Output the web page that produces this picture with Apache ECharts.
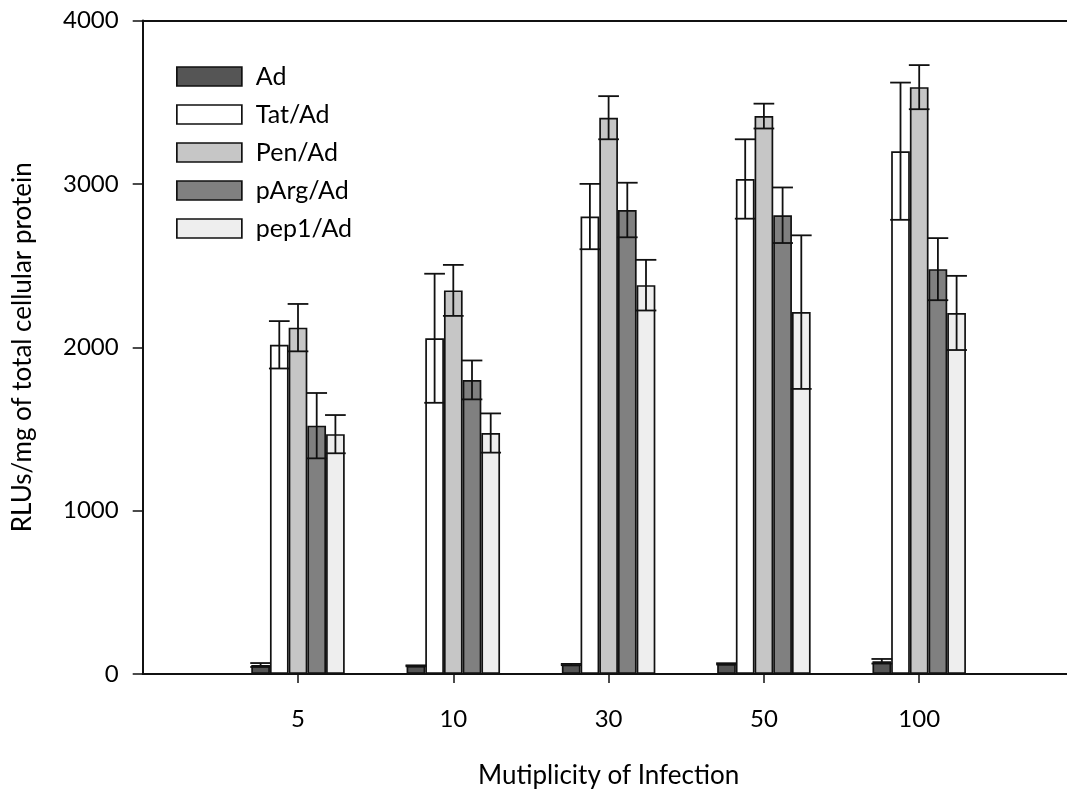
<!DOCTYPE html>
<html>
<head>
<meta charset="utf-8">
<script src="https://cdn.jsdelivr.net/npm/echarts@6/dist/echarts.min.js"></script>
<style>
  html, body { margin: 0; padding: 0; background: #fff; }
  #chart { width: 1067px; height: 791px; }
</style>
</head>
<body>
<div id="chart"></div>
<script>
// Multiplicity of infection groups
const categories = ['5', '10', '30', '50', '100'];
const seriesNames = ['Ad', 'Tat/Ad', 'Pen/Ad', 'pArg/Ad', 'pep1/Ad'];

// Mean RLUs/mg per vector at each MOI
const adMean   = [55, 50, 58, 62, 78];
const tatMean  = [2015, 2055, 2800, 3030, 3200];
const penMean  = [2120, 2348, 3405, 3415, 3592];
const pargMean = [1520, 1800, 2840, 2808, 2478];
const pep1Mean = [1468, 1475, 2380, 2215, 2210];

// Error (±) for each mean
const adErr   = [12, 3, 4, 4, 14];
const tatErr  = [145, 395, 200, 243, 420];
const penErr  = [145, 156, 132, 76, 135];
const pargErr = [200, 119, 167, 170, 190];
const pep1Err = [117, 120, 155, 470, 227];

const yTicks = [0, 1000, 2000, 3000, 4000];

const means = [adMean, tatMean, penMean, pargMean, pep1Mean];
const errs = [adErr, tatErr, penErr, pargErr, pep1Err];
const fills = ['#555555', '#ffffff', '#c6c6c6', '#808080', '#eeeeee'];

const FONT = 'Lato';
const INK = '#000';
const BAR_W = 18.7;

const chart = echarts.init(document.getElementById('chart'), null, { renderer: 'canvas' });

const barSeries = seriesNames.map((name, i) => ({
  name: name,
  type: 'bar',
  barWidth: BAR_W,
  barGap: '0%',
  data: means[i].map((v, k) => [k + 1, v]),
  itemStyle: { color: fills[i], borderColor: '#111', borderWidth: 1.7 },
  emphasis: { disabled: true },
  z: 2
}));

// Symmetric error bars with caps as wide as a bar
const errSeries = seriesNames.map((name, i) => ({
  type: 'custom',
  name: name + ' err',
  silent: true,
  z: 5,
  data: means[i].map((v, k) => [k + 1, v, errs[i][k]]),
  renderItem: function (params, api) {
    const x = api.value(0), v = api.value(1), e = api.value(2);
    const off = (i - (seriesNames.length - 1) / 2) * BAR_W;
    const top = api.coord([x, v + e]);
    const bot = api.coord([x, v - e]);
    const cx = top[0] + off;
    const hw = BAR_W / 2 + 1;
    const st = { stroke: '#111', lineWidth: 1.8 };
    return {
      type: 'group',
      children: [
        { type: 'line', shape: { x1: cx, y1: top[1], x2: cx, y2: bot[1] }, style: st },
        { type: 'line', shape: { x1: cx - hw, y1: top[1], x2: cx + hw, y2: top[1] }, style: st },
        { type: 'line', shape: { x1: cx - hw, y1: bot[1], x2: cx + hw, y2: bot[1] }, style: st }
      ]
    };
  }
}));

chart.setOption({
  animation: false,
  backgroundColor: '#ffffff',
  textStyle: { fontFamily: FONT },
  grid: {
    left: 142.7, top: 20.5, bottom: 117, right: -7.5,
    show: false, containLabel: false, outerBoundsMode: 'none'
  },
  legend: {
    orient: 'vertical',
    left: 176, top: 64, padding: 0,
    icon: 'rect',
    itemWidth: 65, itemHeight: 19, itemGap: 13,
    data: seriesNames,
    selectedMode: false,
    itemStyle: { borderColor: '#111', borderWidth: 1.7 },
    textStyle: { fontFamily: FONT, fontSize: 25, color: INK, padding: [0, 0, 0, 9] }
  },
  xAxis: [{
    type: 'value',
    min: 0, max: 6, interval: 1,
    name: 'Mutiplicity of Infection',
    nameLocation: 'middle',
    nameGap: 89,
    nameTextStyle: { fontFamily: FONT, fontSize: 26, color: INK },
    splitLine: { show: false },
    axisLine: { show: true, lineStyle: { color: '#111', width: 2 } },
    axisTick: { show: true, inside: false, length: 9, customValues: [1, 2, 3, 4, 5], lineStyle: { color: '#111', width: 1.5 } },
    axisLabel: {
      customValues: [1, 2, 3, 4, 5],
      formatter: v => categories[v - 1] || '',
      margin: 33,
      fontFamily: FONT, fontSize: 24, color: INK
    }
  }, {
    // top frame line
    type: 'value',
    position: 'top',
    min: 0, max: 6, interval: 1,
    splitLine: { show: false },
    axisLine: { show: true, lineStyle: { color: '#111', width: 2 } },
    axisTick: { show: false },
    axisLabel: { show: false }
  }],
  yAxis: {
    type: 'value',
    min: yTicks[0], max: yTicks[yTicks.length - 1], interval: 1000,
    name: 'RLUs/mg of total cellular protein',
    nameLocation: 'middle',
    nameGap: 107,
    nameTextStyle: { fontFamily: FONT, fontSize: 26, color: INK },
    splitLine: { show: false },
    axisLine: { show: true, lineStyle: { color: '#111', width: 2 } },
    axisTick: { show: true, inside: false, length: 10, lineStyle: { color: '#111', width: 1.5 } },
    axisLabel: { margin: 24, fontFamily: FONT, fontSize: 24, color: INK, formatter: v => String(v) }
  },
  series: barSeries.concat(errSeries)
});
</script>
</body>
</html>
